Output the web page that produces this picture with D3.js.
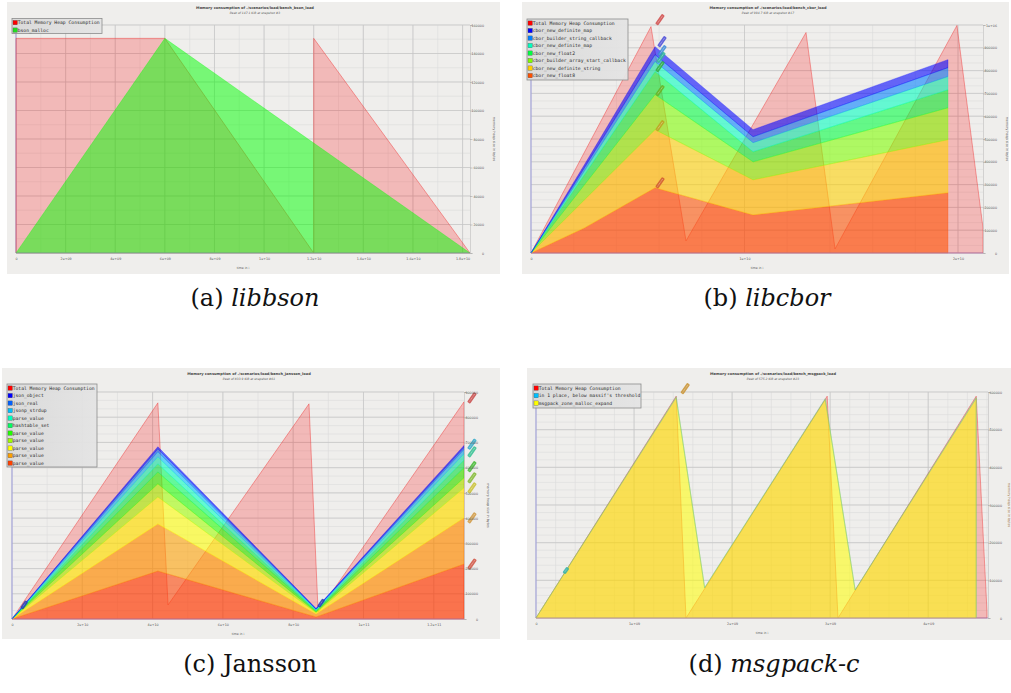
<!DOCTYPE html>
<html><head><meta charset="utf-8">
<script src="https://cdn.jsdelivr.net/npm/d3@7"></script>
<style>body{margin:0;background:#fff}svg{display:block}</style>
</head><body><svg id="c" width="1011" height="693"></svg>
<script>
// ---------------- DATA ----------------
// (a) libbson
const aTitle = "Memory consumption of ./scenarios/load/bench_bson_load";
const aSubtitle = "Peak of 147.1 KiB at snapshot #3";
const aXMax = 1.83e10, aYMax = 160000;
const aXTicks = [0,2e9,4e9,6e9,8e9,1e10,1.2e10,1.4e10,1.6e10,1.8e10];
const aYTicks = [0,20000,40000,60000,80000,100000,120000,140000,160000];
const aTotalT = [0, 0, 6e9, 1.2e10, 1.2e10, 1.83e10];
const aTotalV = [0, 150630, 150630, 0, 150630, 0];
const aTimes = [0, 6e9, 1.83e10];
const aNames = ["bson_malloc"];
const aBsonMalloc = [0, 150630, 0];

// (b) libcbor
const bTitle = "Memory consumption of ./scenarios/load/bench_cbor_load";
const bSubtitle = "Peak of 994.7 KiB at snapshot #17";
const bXMax = 2.117e10, bYMax = 1e6;
const bXTicks = [0,1e10,2e10];
const bYTicks = [0,1e5,2e5,3e5,4e5,5e5,6e5,7e5,8e5,9e5,1e6];
const bTotalT = [0, 5.62e9, 7.26e9, 1.288e10, 1.424e10, 1.995e10, 2.117e10];
const bTotalV = [0, 993000, 53000, 967000, 18000, 998000, 110000];
const bTimes = [0, 2.5e9, 5.81e9, 1.04e10, 1.953e10];
const bNames = ["cbor_new_float8","cbor_new_definite_string","cbor_builder_array_start_callback","cbor_new_float2","cbor_new_definite_map","cbor_builder_string_callback","cbor_new_definite_map"];
const bFloat8      = [0, 110000, 286000, 167000, 264000];
const bDefString   = [0, 123000, 255000, 154000, 233000];
const bArrayStart  = [0,  66000, 154000,  79000, 140000];
const bFloat2      = [0,  44000, 101000,  44000,  79000];
const bDefMapB     = [0,  17000,  44000,  40000,  58000];
const bStringCb    = [0,  14000,  30000,  26000,  39000];
const bDefMapA     = [0,  13000,  35000,  31000,  35000];

// (c) Jansson
const cTitle = "Memory consumption of ./scenarios/load/bench_jansson_load";
const cSubtitle = "Peak of 833.9 KiB at snapshot #61";
const cXMax = 1.286e11, cYMax = 900000;
const cXTicks = [0,2e10,4e10,6e10,8e10,1e11,1.2e11];
const cYTicks = [0,1e5,2e5,3e5,4e5,5e5,6e5,7e5,8e5,9e5];
const cTotalT = [0, 4.15e10, 4.44e10, 8.45e10, 8.71e10, 1.286e11];
const cTotalV = [0, 857000, 56000, 853000, 28000, 861000];
const cTimes = [0, 4.15e10, 8.65e10, 1.286e11];
const cNames = ["parse_value","parse_value","parse_value","parse_value","parse_value","hashtable_set","parse_value","jsonp_strdup","json_real","json_object"];
const cParse1   = [0, 190000,  8000, 218000];
const cParse2   = [0, 187000, 12000, 183000];
const cParse3   = [0, 107000,  5000, 119000];
const cParse4   = [0,  52000,  3000,  40000];
const cParse5   = [0,  47000,  3000,  40000];
const cHashSet  = [0,  32000,  3000,  30000];
const cParse6   = [0,  28000,  3000,  25000];
const cStrdup   = [0,  20000,  2000,  17000];
const cJsonReal = [0,  12000,  1000,   9000];
const cJsonObj  = [0,   8000,  2000,   7000];

// (d) msgpack-c
const dTitle = "Memory consumption of ./scenarios/load/bench_msgpack_load";
const dSubtitle = "Peak of 575.2 KiB at snapshot #23";
const dXMax = 4.61e9, dYMax = 600000;
const dXTicks = [0,1e9,2e9,3e9,4e9];
const dYTicks = [0,1e5,2e5,3e5,4e5,5e5,6e5];
const dTotalT = [0, 1.43e9, 1.53e9, 2.97e9, 3.08e9, 4.49e9, 4.60e9];
const dTotalV = [0, 589000, 0, 589000, 0, 589000, 16000];
const dTimes = [0, 1.43e9, 1.72e9, 2.95e9, 3.255e9, 4.49e9, 4.49e9];
const dNames = ["msgpack_zone_malloc_expand","in 1 place, below massif's threshold"];
const dZoneMalloc = [0, 585000, 80000, 580000, 74000, 583000, 0];
const dBelow      = [0,   3000,  1000,   3000,  1000,   3000, 0];

const totalName = "Total Memory Heap Consumption";

// ---------------- DRAWING ----------------
const svg = d3.select("#c");
const BG = "#efeeec";

function fmtG(v){
  if (v === 0) return "0";
  const e = Math.floor(Math.log10(Math.abs(v)) + 1e-9);
  if (e >= 6 || e < -4){
    let [m, ex] = v.toExponential(5).split("e");
    if (m.indexOf(".") >= 0) m = m.replace(/0+$/,"").replace(/\.$/,"");
    const sign = ex[0] === "-" ? "-" : "+";
    let d = ex.replace(/^[+-]/,""); if (d.length < 2) d = "0" + d;
    return m + "e" + sign + d;
  }
  return String(+v.toPrecision(6));
}
function interp(ts, vs, t){
  for (let i = 0; i < ts.length - 1; i++){
    if (t >= ts[i] && t <= ts[i+1]){
      const f = ts[i+1] === ts[i] ? 0 : (t - ts[i]) / (ts[i+1] - ts[i]);
      return vs[i] + f * (vs[i+1] - vs[i]);
    }
  }
  return vs[vs.length-1];
}

function drawPanel(cfg){
  const g = svg.append("g");
  const [bx, by, bw, bh] = cfg.box;
  g.append("rect").attr("x", bx).attr("y", by).attr("width", bw).attr("height", bh).attr("fill", BG);
  const P = cfg.plot;
  const x = d3.scaleLinear().domain([0, cfg.xMax]).range([P.l, P.r]);
  const y = d3.scaleLinear().domain([0, cfg.yMax]).range([P.b, P.t]);

  const grid = g.append("g");
  d3.range(0, cfg.xMax + 1, cfg.xMinor).forEach(t => {
    grid.append("line").attr("x1", x(t)).attr("x2", x(t)).attr("y1", P.t).attr("y2", P.b)
      .attr("stroke", "#dcdcdc").attr("stroke-width", 0.6);
  });
  d3.range(0, cfg.yMax + 1, cfg.yMinor).forEach(v => {
    grid.append("line").attr("x1", P.l).attr("x2", P.r).attr("y1", y(v)).attr("y2", y(v))
      .attr("stroke", "#dcdcdc").attr("stroke-width", 0.6);
  });
  cfg.xTicks.forEach(t => {
    grid.append("line").attr("x1", x(t)).attr("x2", x(t)).attr("y1", P.t).attr("y2", P.b)
      .attr("stroke", "#c4c4c4").attr("stroke-width", 0.7);
  });
  cfg.yTicks.forEach(v => {
    grid.append("line").attr("x1", P.l).attr("x2", P.r).attr("y1", y(v)).attr("y2", y(v))
      .attr("stroke", "#c4c4c4").attr("stroke-width", 0.7);
  });
  g.append("line").attr("x1", P.l).attr("x2", P.l).attr("y1", P.t).attr("y2", P.b)
    .attr("stroke", "#8c8ce6").attr("stroke-width", 0.7);

  const tot = cfg.totalT.map((t, i) => ({t, v: cfg.totalV[i]}));
  g.append("path").datum(tot)
    .attr("d", d3.area().x(d => x(d.t)).y0(y(0)).y1(d => y(d.v)))
    .attr("fill", "#ff0000").attr("fill-opacity", 0.22)
    .attr("stroke", "#ee3030").attr("stroke-opacity", 0.55).attr("stroke-width", 0.8);

  const keys = cfg.layers.map((l, i) => "k" + i);
  const rows = cfg.times.map((t, j) => {
    const r = {t};
    cfg.layers.forEach((l, i) => r["k" + i] = l.values[j]);
    return r;
  });
  const stacked = d3.stack().keys(keys)(rows);
  const area = d3.area().x(d => x(d.data.t)).y0(d => y(d[0])).y1(d => y(d[1]));
  stacked.forEach((s, i) => {
    const L = cfg.layers[i];
    g.append("path").datum(s).attr("d", area)
      .attr("fill", L.color).attr("fill-opacity", L.opacity || cfg.layerOpacity || 0.58)
      .attr("stroke", L.stroke || L.color).attr("stroke-opacity", L.strokeOpacity || 0.5).attr("stroke-width", 0.6);
  });

  g.append("line").attr("x1", P.l).attr("x2", P.r).attr("y1", P.b).attr("y2", P.b)
    .attr("stroke", "#9d92d4").attr("stroke-width", 0.7);

  const topAt = (li, t) => {
    const s = stacked[li];
    return interp(s.map(d => d.data.t), s.map(d => d[1]), t);
  };
  (cfg.tags || []).forEach(tg => {
    let px, py;
    if (tg.layer === "total"){ px = x(tg.t); py = y(interp(cfg.totalT, cfg.totalV, tg.t)); }
    else { px = x(tg.t); py = y(topAt(tg.layer, tg.t)); }
    px += tg.dx; py += tg.dy;
    const gg = g.append("g").attr("transform", `translate(${px},${py}) rotate(-55)`);
    gg.append("rect").attr("x", -6).attr("y", -1.8).attr("width", tg.len || 12).attr("height", 3.6).attr("rx", 1)
      .attr("fill", tg.color).attr("fill-opacity", 0.85);
    gg.append("line").attr("x1", -4.5).attr("x2", (tg.len || 12) - 7.5).attr("y1", 0).attr("y2", 0)
      .attr("stroke", "#fff").attr("stroke-opacity", 0.45).attr("stroke-width", 0.8).attr("stroke-dasharray", "1,0.6");
  });

  const ya = g.append("g").attr("transform", `translate(${P.r},0)`)
    .call(d3.axisRight(y).tickValues(cfg.yTicks).tickFormat(fmtG).tickSize(2.5));
  ya.select(".domain").attr("stroke", "#bdbdbd").attr("stroke-width", 0.6);
  ya.selectAll(".tick line").attr("stroke", "#999").attr("stroke-width", 0.5);
  ya.selectAll(".tick text").attr("x", 14).attr("text-anchor", "end").attr("dy", "0.35em")
    .attr("font-size", 3.3).attr("font-family", "DejaVu Sans").attr("fill", "#555");

  const xa = g.append("g").attr("transform", `translate(0,${P.b})`)
    .call(d3.axisBottom(x).tickValues(cfg.xTicks).tickFormat(fmtG).tickSize(0));
  xa.select(".domain").remove();
  xa.selectAll(".tick text").attr("y", 4.2).attr("dy", "0.7em")
    .attr("font-size", 3.3).attr("font-family", "DejaVu Sans").attr("fill", "#555");

  g.append("text").attr("x", (P.l + P.r) / 2).attr("y", P.b + 16).attr("text-anchor", "middle")
    .attr("font-size", 3.1).attr("font-family", "DejaVu Sans").attr("fill", "#555").text("time in i");
  g.append("text").attr("transform", `translate(${P.r + (cfg.yTitleDx || 23)},${(P.t + P.b) / 2}) rotate(90)`)
    .attr("text-anchor", "middle").attr("font-size", 3.3).attr("font-family", "DejaVu Sans")
    .attr("fill", cfg.yTitleColor || "#555").text("memory heap size in bytes");

  g.append("text").attr("x", cfg.titleX).attr("y", cfg.titleY).attr("text-anchor", "middle")
    .attr("font-size", 3.6).attr("font-weight", "bold").attr("font-family", "DejaVu Sans").attr("fill", "#444").text(cfg.title);
  g.append("text").attr("x", cfg.titleX).attr("y", cfg.titleY + 5).attr("text-anchor", "middle")
    .attr("font-size", 3.0).attr("font-style", "italic").attr("font-family", "DejaVu Sans").attr("fill", "#555").text(cfg.subtitle);

  const [lx, ly, lw, lh] = cfg.legendBox;
  const lg = g.append("g");
  const gradId = "lg" + cfg.id;
  const grad = svg.append("defs").append("linearGradient").attr("id", gradId);
  grad.append("stop").attr("offset", "0%").attr("stop-color", "#d9d9d9");
  grad.append("stop").attr("offset", "100%").attr("stop-color", "#e4e4e4");
  lg.append("rect").attr("x", lx).attr("y", ly).attr("width", lw).attr("height", lh)
    .attr("fill", `url(#${gradId})`).attr("fill-opacity", 0.95).attr("stroke", "#8c8c8c").attr("stroke-width", 0.8);
  const items = [{name: totalName, color: "#ff0000"}].concat(cfg.layers.slice().reverse().map(l => ({name: l.name, color: l.swatch || l.color})));
  items.forEach((it, i) => {
    const cy = ly + 4.1 + i * 7.5;
    lg.append("rect").attr("x", lx + 1).attr("y", cy - 2.2).attr("width", 4.4).attr("height", 4.4)
      .attr("fill", it.color).attr("stroke", "#444").attr("stroke-width", 0.3);
    lg.append("text").attr("x", lx + 5.7).attr("y", cy + 1.6)
      .attr("font-size", 4.7).attr("font-family", "DejaVu Sans Mono").attr("fill", "#2a2a2a").text(it.name);
  });
}

const colsB = ["#ff5000","#ffd000","#80ff00","#00ff40","#00ffbf","#0080ff","#0000ff"];
const colsC = ["#ff4000","#ffa000","#ffff00","#a0ff00","#20ff00","#00ff60","#00ffc0","#00c0ff","#0060ff","#0000ff"];

drawPanel({
  id: "a", box: [7, 2, 493, 272], plot: {l: 16, r: 470, t: 25, b: 253},
  title: aTitle, subtitle: aSubtitle, titleX: 255, titleY: 9,
  xMax: aXMax, yMax: aYMax, xTicks: aXTicks, yTicks: aYTicks, xMinor: 1e9, yMinor: 10000,
  totalT: aTotalT, totalV: aTotalV, times: aTimes,
  layers: [{name: aNames[0], color: "#00ff00", swatch: "#22dd22", values: aBsonMalloc}],
  layerOpacity: 0.5,
  legendBox: [12, 18.5, 90, 15]
});

const bVals = [bFloat8, bDefString, bArrayStart, bFloat2, bDefMapB, bStringCb, bDefMapA];
drawPanel({
  id: "b", box: [522, 2, 487, 272], plot: {l: 531, r: 983, t: 25, b: 253},
  title: bTitle, subtitle: bSubtitle, titleX: 768, titleY: 9,
  xMax: bXMax, yMax: bYMax, xTicks: bXTicks, yTicks: bYTicks, xMinor: 2e9, yMinor: 1e5 / 3,
  totalT: bTotalT, totalV: bTotalV, times: bTimes,
  layers: bNames.map((n, i) => ({name: n, color: colsB[i], values: bVals[i]})),
  legendBox: [527, 19, 101, 61],
  tags: [
    {layer: "total", t: 5.62e9, dx: 9, dy: -7, color: "#d04848"},
    {layer: 6, t: 5.81e9, dx: 7, dy: -5, color: "#4848d8"},
    {layer: 5, t: 5.81e9, dx: 7, dy: -4, color: "#3a8ad8"},
    {layer: 4, t: 5.81e9, dx: 6, dy: -4, color: "#30b898"},
    {layer: 3, t: 5.81e9, dx: 5, dy: -5, color: "#30b040"},
    {layer: 2, t: 5.81e9, dx: 5, dy: -4, color: "#68b020"},
    {layer: 1, t: 5.81e9, dx: 5, dy: -4, color: "#c0a020"},
    {layer: 0, t: 5.81e9, dx: 5, dy: -5, color: "#d05830"}
  ]
});

const cVals = [cParse1, cParse2, cParse3, cParse4, cParse5, cHashSet, cParse6, cStrdup, cJsonReal, cJsonObj];
drawPanel({
  id: "c", box: [2, 368, 498, 271], plot: {l: 12, r: 464, t: 392, b: 619},
  title: cTitle, subtitle: cSubtitle, titleX: 249, titleY: 375,
  xMax: cXMax, yMax: cYMax, xTicks: cXTicks, yTicks: cYTicks, xMinor: 1e10, yMinor: 1e5 / 3,
  totalT: cTotalT, totalV: cTotalV, times: cTimes,
  layers: cNames.map((n, i) => ({name: n, color: colsC[i], values: cVals[i]})),
  legendBox: [7, 384, 90, 83],
  tags: [
    {layer: "total", t: 1.286e11, dx: 8, dy: -4, color: "#c84848"},
    {layer: 8, t: 1.286e11, dx: 8, dy: -3, color: "#30a8c8"},
    {layer: 6, t: 1.286e11, dx: 8, dy: -2, color: "#30c090"},
    {layer: 4, t: 1.286e11, dx: 8, dy: -1, color: "#40b830"},
    {layer: 3, t: 1.286e11, dx: 8, dy: 0, color: "#80b830"},
    {layer: 2, t: 1.286e11, dx: 8, dy: 0, color: "#c8c030"},
    {layer: 1, t: 1.286e11, dx: 8, dy: 0, color: "#d09840"},
    {layer: 0, t: 1.286e11, dx: 8, dy: 0, color: "#d05040"},
    {layer: 9, t: 3.7e9, dx: 0, dy: 0, color: "#2838b0", len: 9},
    {layer: 9, t: 8.82e10, dx: 0, dy: 0, color: "#2838b0", len: 9}
  ]
});

const dVals = [dZoneMalloc, dBelow];
drawPanel({
  id: "d", box: [527, 368, 484, 272], plot: {l: 536, r: 988, t: 392, b: 618},
  title: dTitle, subtitle: dSubtitle, titleX: 773, titleY: 375,
  xMax: dXMax, yMax: dYMax, xTicks: dXTicks, yTicks: dYTicks, xMinor: 2e8, yMinor: 20000,
  totalT: dTotalT, totalV: dTotalV, times: dTimes,
  layers: [
    {name: dNames[0], color: "#ffff00", stroke: "#d8e020", strokeOpacity: 0.6, values: dVals[0]},
    {name: dNames[1], color: "#00c0ff", swatch: "#00c0ff", opacity: 0.15, stroke: "#60c890", strokeOpacity: 0.45, values: dVals[1]}
  ],
  layerOpacity: 0.55, yTitleColor: "#9a7040", yTitleDx: 20,
  legendBox: [533, 384, 108, 24],
  tags: [
    {layer: 0, t: 1.43e9, dx: 9, dy: -9, color: "#c89030"},
    {layer: 1, t: 0.32e9, dx: 0, dy: 0, color: "#30b0a8", len: 7}
  ]
});

// captions
const caps = [
  {x: 255, y: 306, pre: "(a) ", name: "libbson", it: true},
  {x: 767, y: 306, pre: "(b) ", name: "libcbor", it: true},
  {x: 250, y: 672, pre: "(c) ", name: "Jansson", it: false},
  {x: 774, y: 672, pre: "(d) ", name: "msgpack-c", it: true}
];
caps.forEach(c => {
  const t = svg.append("text").attr("x", c.x).attr("y", c.y).attr("text-anchor", "middle")
    .attr("font-family", "DejaVu Serif").attr("font-size", 24).attr("fill", "#111");
  t.append("tspan").text(c.pre);
  t.append("tspan").attr("font-style", c.it ? "italic" : "normal").text(c.name);
});
</script></body></html>
